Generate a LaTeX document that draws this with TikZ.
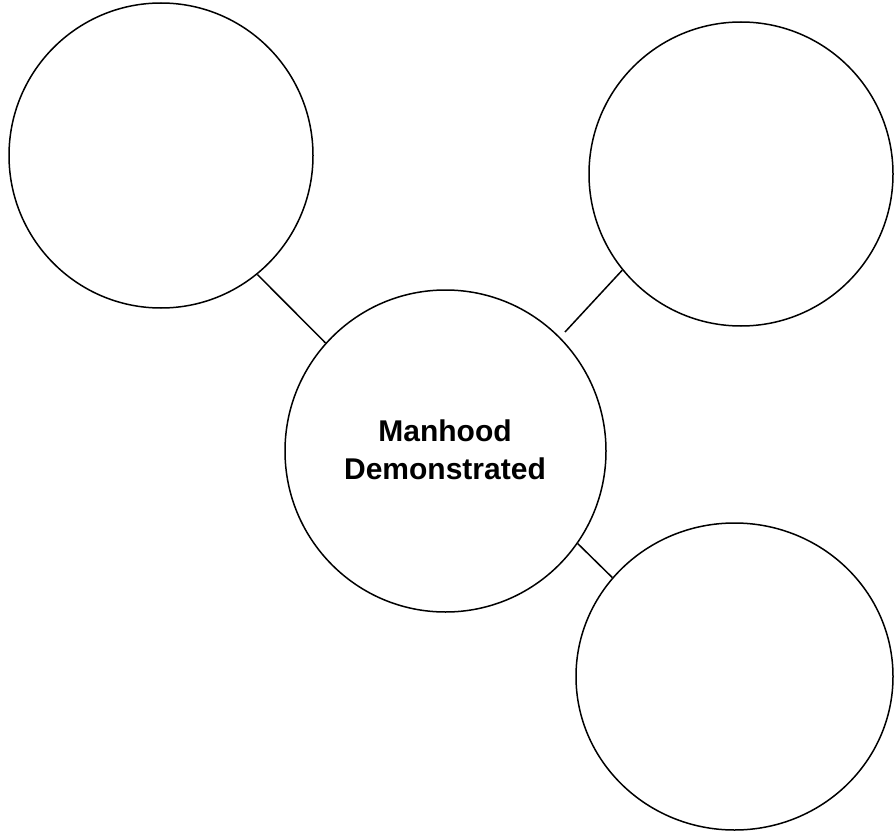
\documentclass[tikz,border=0pt]{standalone}
\usepackage{fontspec}
\setmainfont{Liberation Sans}
\usetikzlibrary{shapes.geometric}
\tikzset{
  bubble/.style={draw=black, line width=1.5pt, ellipse, inner sep=0pt, fill=white},
  link/.style={draw=black, line width=1.5pt},
  title/.style={font=\fontsize{30}{38}\selectfont\bfseries, align=center, inner sep=0pt}
}
\begin{document}
\begin{tikzpicture}[x=1pt,y=-1pt]
\useasboundingbox (0,0) rectangle (894,832);
\node[bubble, minimum width=304pt, minimum height=305pt] (tl) at (161,155.5) {};
\node[bubble, minimum width=304pt, minimum height=304pt] (tr) at (741,174) {};
\node[bubble, minimum width=321pt, minimum height=322pt] (c) at (445.5,451) {};
\node[bubble, minimum width=317pt, minimum height=307pt] (br) at (734.5,676.5) {};
\node[title] (lbl) at (445,450) {Manhood\\Demonstrated};
\coordinate (trend) at (565,332);
\draw[link] (tl.-51.2) -- (c.138.1);
\draw[link] (tr.219.7) -- (trend);
\draw[link] (c.-35.1) -- (br.141);
\end{tikzpicture}
\end{document}
